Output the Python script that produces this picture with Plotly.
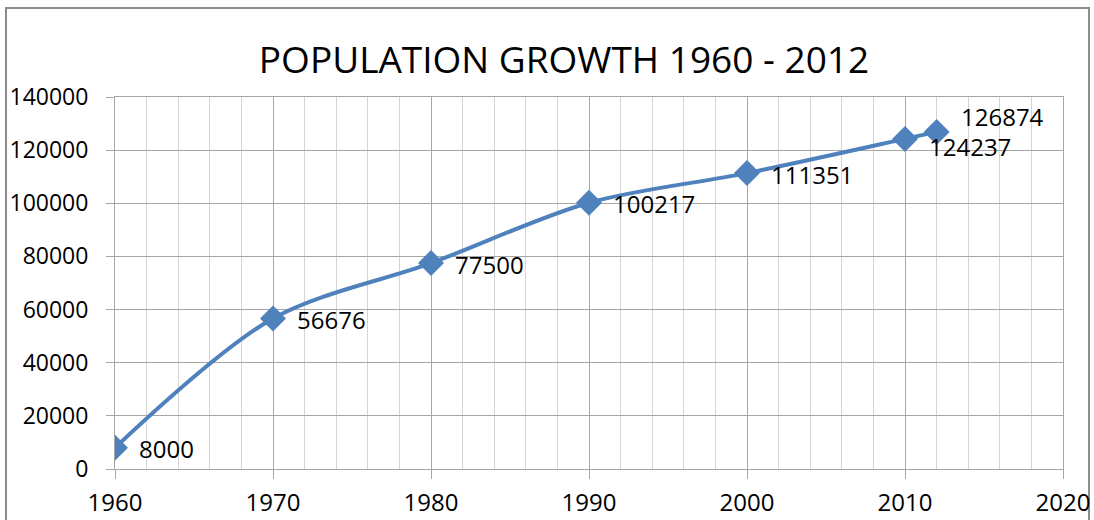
import plotly.graph_objects as go

years = [1960, 1970, 1980, 1990, 2000, 2010, 2012]
population = [8000, 56676, 77500, 100217, 111351, 124237, 126874]
title_text = "POPULATION GROWTH 1960 - 2012"

# label vertical nudges (px) for each point label
label_yshift = [-1, -1, -1, -1, -1, -8, 15]

FONT = "Open Sans"
BLUE = "#4F81BD"

fig = go.Figure()
fig.add_trace(go.Scatter(
    x=years, y=population, mode="lines+markers",
    line=dict(color=BLUE, width=4, shape="spline", smoothing=0.9),
    marker=dict(symbol="diamond", size=20, color=BLUE),
    hoverinfo="x+y", showlegend=False,
))

for x, y, ys in zip(years, population, label_yshift):
    fig.add_annotation(x=x, y=y, text=str(y), showarrow=False,
                       xanchor="left", yanchor="middle", xshift=22, yshift=ys,
                       font=dict(family=FONT, size=24, color="#000000"))

fig.update_layout(
    width=1094, height=520,
    margin=dict(l=115, r=31, t=97, b=51),
    paper_bgcolor="white", plot_bgcolor="white",
    title=dict(text=title_text, x=564/1094, xanchor="center", y=1-60/520, yanchor="middle",
               font=dict(family=FONT, size=37, color="#000000")),
    font=dict(family=FONT, color="#000000"),
    shapes=[dict(type="rect", xref="paper", yref="paper",
                 x0=(6-115)/948, x1=(1089-115)/948, y0=-0.3, y1=(469-8)/372,
                 line=dict(color="#8c8c8c", width=2), fillcolor="rgba(0,0,0,0)", layer="below")],
)

fig.update_xaxes(
    range=[1960, 2020], dtick=10, tick0=1960,
    showgrid=True, gridcolor="#a6a6a6", gridwidth=1,
    minor=dict(dtick=2, tick0=1960, showgrid=True, gridcolor="#d4d4d4", gridwidth=1),
    ticks="outside", ticklen=9, tickcolor="#a6a6a6",
    showline=True, linecolor="#a6a6a6", linewidth=1, mirror=True,
    zeroline=False, tickfont=dict(family=FONT, size=24, color="#000000"),
    ticklabelstandoff=3, automargin=False,
)
fig.update_yaxes(
    range=[0, 140000], dtick=20000, tick0=0, tickformat="d",
    showgrid=True, gridcolor="#a6a6a6", gridwidth=1,
    ticks="outside", ticklen=8, tickcolor="#a6a6a6",
    showline=True, linecolor="#a6a6a6", linewidth=1, mirror=True,
    zeroline=False, tickfont=dict(family=FONT, size=23, color="#000000"),
    ticklabelstandoff=13, automargin=False,
)

fig.write_html("out.html")
